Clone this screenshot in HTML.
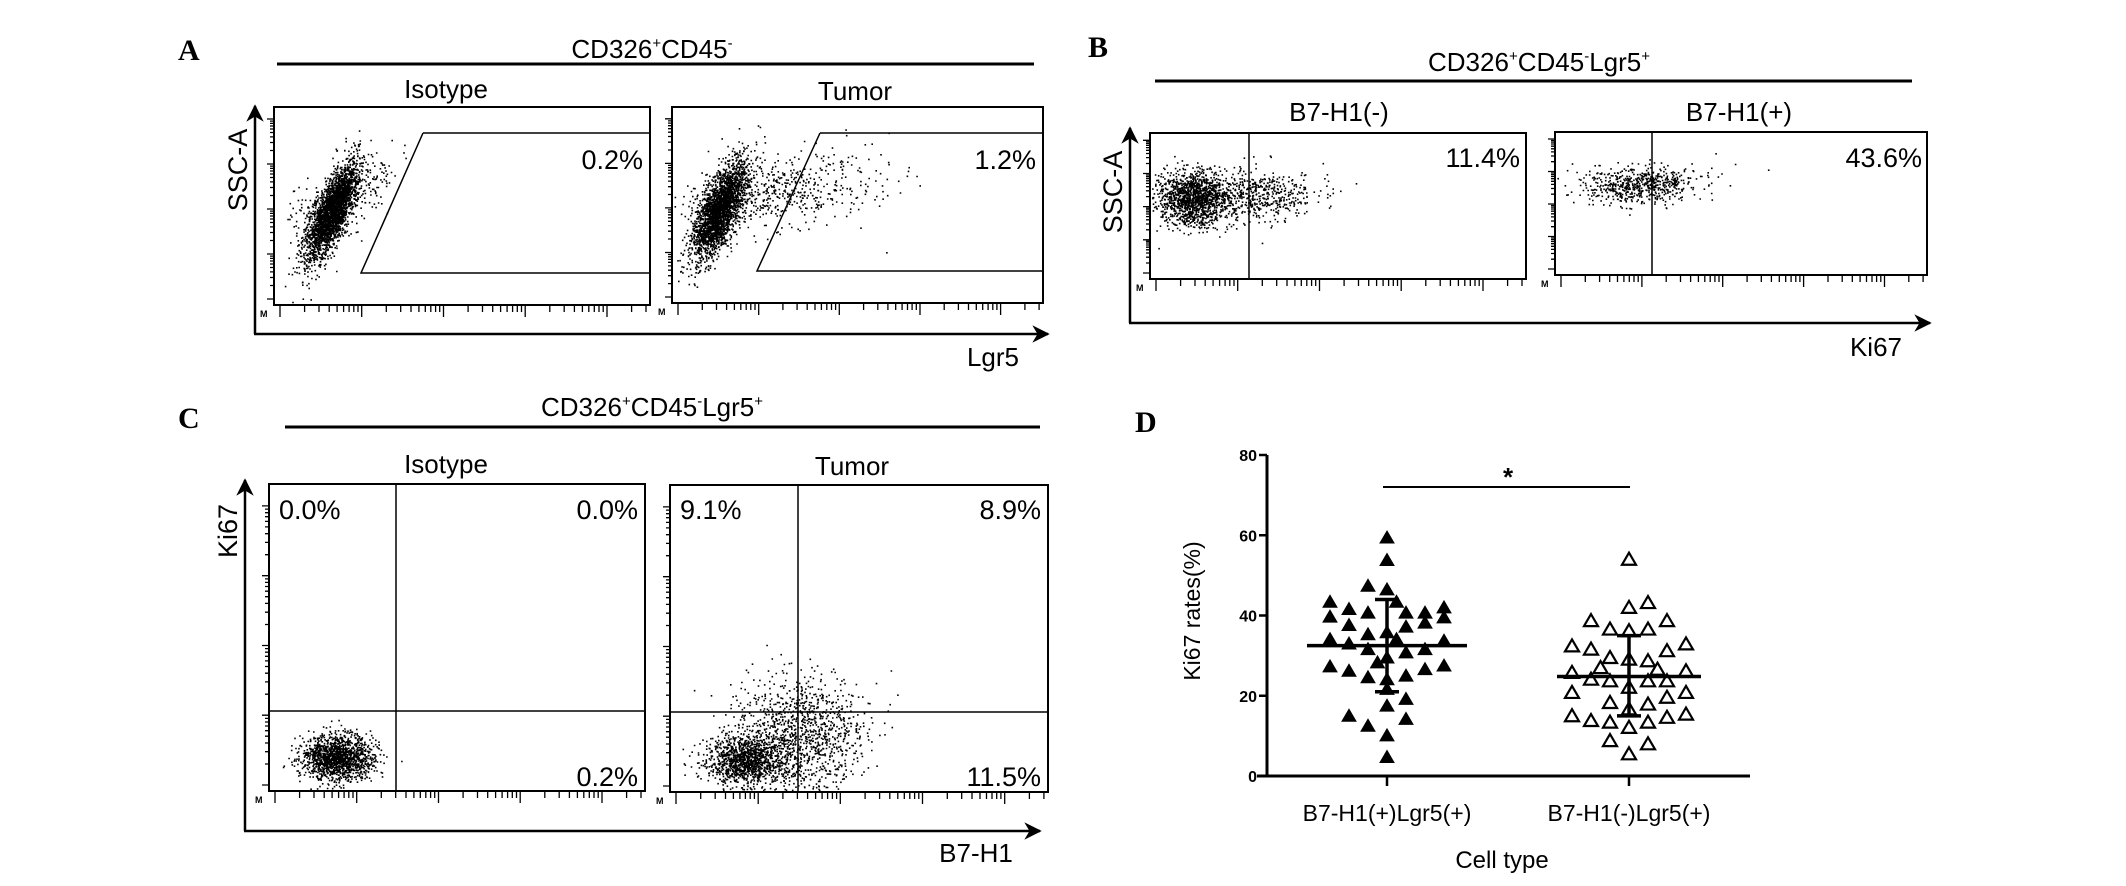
<!DOCTYPE html>
<html><head><meta charset="utf-8"><style>
html,body{margin:0;padding:0;background:#fff;}
svg{display:block;font-family:"Liberation Sans",Arial,sans-serif;}
.pl{font-family:"Liberation Serif",serif;font-weight:bold;font-size:30px;}
</style></head><body>
<svg id="fig" width="2126" height="886" viewBox="0 0 2126 886" xmlns="http://www.w3.org/2000/svg">
<defs><marker id="ar" viewBox="0 0 10 10" refX="9" refY="5" markerWidth="7" markerHeight="7" orient="auto"><path d="M0,0 L10,5 L0,10 L3,5 z" fill="#000"/></marker></defs>
<g id="panelA">
 <text class="pl" x="178" y="60">A</text>
 <text x="652" y="58" font-size="26" text-anchor="middle">CD326<tspan font-size="15" dy="-10">+</tspan><tspan dy="10">CD45</tspan><tspan font-size="15" dy="-10">-</tspan></text>
 <line x1="277" y1="64" x2="1034" y2="64" stroke="#000" stroke-width="3"/>
 <text x="446" y="98" font-size="26" text-anchor="middle">Isotype</text>
 <text x="855" y="100" font-size="26" text-anchor="middle">Tumor</text>
 <line x1="255" y1="334" x2="255" y2="106" stroke="#000" stroke-width="2.5" marker-end="url(#ar)"/>
 <line x1="254" y1="334" x2="1048" y2="334" stroke="#000" stroke-width="2.5" marker-end="url(#ar)"/>
 <text x="993" y="366" font-size="26" text-anchor="middle">Lgr5</text>
 <text transform="translate(247,170) rotate(-90)" font-size="27" text-anchor="middle">SSC-A</text>
</g>
<g id="panelB">
 <text class="pl" x="1088" y="57">B</text>
 <text x="1539" y="71" font-size="26" text-anchor="middle">CD326<tspan font-size="15" dy="-10">+</tspan><tspan dy="10">CD45</tspan><tspan font-size="15" dy="-10">-</tspan><tspan dy="10">Lgr5</tspan><tspan font-size="15" dy="-10">+</tspan></text>
 <line x1="1155" y1="81" x2="1912" y2="81" stroke="#000" stroke-width="3"/>
 <text x="1339" y="121" font-size="26" text-anchor="middle">B7-H1(-)</text>
 <text x="1739" y="121" font-size="26" text-anchor="middle">B7-H1(+)</text>
 <line x1="1130" y1="323" x2="1130" y2="128" stroke="#000" stroke-width="2.5" marker-end="url(#ar)"/>
 <line x1="1129" y1="323" x2="1930" y2="323" stroke="#000" stroke-width="2.5" marker-end="url(#ar)"/>
 <text x="1876" y="356" font-size="26" text-anchor="middle">Ki67</text>
 <text transform="translate(1122,192) rotate(-90)" font-size="27" text-anchor="middle">SSC-A</text>
</g>
<g id="panelC">
 <text class="pl" x="178" y="428">C</text>
 <text x="652" y="416" font-size="26" text-anchor="middle">CD326<tspan font-size="15" dy="-10">+</tspan><tspan dy="10">CD45</tspan><tspan font-size="15" dy="-10">-</tspan><tspan dy="10">Lgr5</tspan><tspan font-size="15" dy="-10">+</tspan></text>
 <line x1="285" y1="427" x2="1040" y2="427" stroke="#000" stroke-width="3"/>
 <text x="446" y="473" font-size="26" text-anchor="middle">Isotype</text>
 <text x="852" y="475" font-size="26" text-anchor="middle">Tumor</text>
 <line x1="245" y1="831" x2="245" y2="480" stroke="#000" stroke-width="2.5" marker-end="url(#ar)"/>
 <line x1="244" y1="831" x2="1040" y2="831" stroke="#000" stroke-width="2.5" marker-end="url(#ar)"/>
 <text x="976" y="862" font-size="26" text-anchor="middle">B7-H1</text>
 <text transform="translate(237,531) rotate(-90)" font-size="27" text-anchor="middle">Ki67</text>
</g>
<g id="panelD">
 <text class="pl" x="1135" y="432">D</text>
 <text transform="translate(1200,611) rotate(-90)" font-size="23" text-anchor="middle">Ki67 rates(%)</text>
 <text x="1502" y="868" font-size="24" text-anchor="middle">Cell type</text>
</g>
</svg>
<script>
// ---------- Panel D data ----------
const categories = ["B7-H1(+)Lgr5(+)", "B7-H1(-)Lgr5(+)"];
const yTicks = [0, 20, 40, 60, 80];
const posValues = [59.3,53.7,47.3,46.4,43.3,43.3,41.9,39.6,41.5,40.6,40.6,40.6,39.4,37.5,37.1,38.1,35.2,35.7,34,32.9,34,33.6,31.5,30.7,31.5,27.2,26.1,28.2,29.4,26.5,27.4,24.5,24,24.9,21.6,19.1,17.4,14.9,14.1,12.4,10,4.6];
const posSlots = [0,0,-1,0,-3,0.5,3,-3,-2,-1,1,2,3,-2,1,2,-1,0,-3,-2,0.5,3,-1,1,2,-3,-2,-0.5,0,2,3,-1,0,1,0,1,0,-2,1,-1,0,0];
const negValues = [53.9,43.1,41.9,38.6,38.6,36.5,36.1,36.5,32.3,31.5,31.1,32.8,29.4,29,28.6,25.7,26.9,26.5,26.1,24,23.6,23.6,23.6,22,20.7,19.5,20.7,18.2,17.8,16.6,14.9,13.7,14.5,15.3,13.3,13.3,12,8.7,7.9,5.4];
const negSlots = [0,1,0,-2,2,-1,0,1,-3,-2,2,3,-1,0,1,-3,-1.5,1.5,3,-2,-1,1,2,0,-3,2,3,-1,1,0,-3,-2,2,3,-1,1,0,-1,1,0];
const posMean = 32.5, posSD = [21, 44];
const negMean = 24.8, negSD = [15, 35];

// ---------- Flow data ----------
const flowPercentsA = ["0.2%", "1.2%"];
const flowPercentsB = ["11.4%", "43.6%"];
const flowPercentsC1 = ["0.0%", "0.0%", "0.2%"];
const flowPercentsC2 = ["9.1%", "8.9%", "11.5%"];

const NS = "http://www.w3.org/2000/svg";
const svg = document.getElementById('fig');
function mk(tag, attrs, parent){ const e = document.createElementNS(NS, tag); for (const k in attrs) e.setAttribute(k, attrs[k]); (parent||svg).appendChild(e); return e; }

// Seeded generator for flow-cytometry dot texture
let seed = 12345;
function rnd(){ seed = (seed * 1103515245 + 12345) % 2147483648; return seed / 2147483648; }
function gauss(){ let u = rnd() || 1e-9, v = rnd(); return Math.sqrt(-2*Math.log(u))*Math.cos(2*Math.PI*v); }

function flowBox(g, x0, y0, x1, y1){
  const r = mk('rect', {x:x0, y:y0, width:x1-x0, height:y1-y0, fill:'none', stroke:'#000', 'stroke-width':2}, g);
  
  
  // log ticks
  let d = '';
  const decadesX = 4.6, wx = (x1-x0)/decadesX;
  for (let k=0;k<5;k++) for (let m=1;m<=9;m++){
    const x = x0 + 6 + (k + Math.log10(m))*wx; if (x > x1-2) continue;
    const L = m===1 ? 12 : 7; d += `M${x.toFixed(1)},${y1} v${L} `;
  }
  const decadesY = 4.4, wy = (y1-y0)/decadesY;
  for (let k=0;k<5;k++) for (let m=1;m<=9;m++){
    const y = y1 - 6 - (k + Math.log10(m))*wy; if (y < y0+2) continue;
    const L = m===1 ? 7 : 4; d += `M${x0},${y.toFixed(1)} h${-L} `;
  }
  const t = mk('path', {d:d, stroke:'#000', 'stroke-width':1.3, fill:'none'}, g);
  
  
  const m = mk('text', {x:x0-14, y:y1+12, 'font-size':9, 'font-weight':'bold'}, g); m.textContent = 'M';
  
  
}
function cloud(g, box, cx, cy, sa, sb, ang, n){
  const c = Math.cos(ang), s = Math.sin(ang); let d = '';
  for (let i=0;i<n;i++){
    const a = gauss()*sa, b = gauss()*sb;
    const x = cx + a*c - b*s, y = cy + a*s + b*c;
    if (x < box[0]+2 || x > box[2]-2 || y < box[1]+2 || y > box[3]-2) continue;
    d += `M${x.toFixed(1)},${y.toFixed(1)}h1.6v1.6h-1.6z`;
  }
  const p = mk('path', {d:d, fill:'#000'}, g);
  
  
}
function label(g, txt, x, y, anchor, name){
  const t = mk('text', {x:x, y:y, 'font-size':27, 'text-anchor':anchor}, g); t.textContent = txt;
  
  
}

// Panel A
const gA = document.getElementById('panelA');
[[274,107,650,305],[672,107,1043,303]].forEach((b,i)=>{
  flowBox(gA, ...b);
  const gx0 = i===0 ? 423 : 820, gx1 = i===0 ? 361 : 757, gb = i===0 ? 273 : 271;
  const gate = mk('path', {d:`M${gx0},133 L${b[2]},133 M${b[2]},${gb} L${gx1},${gb} L${gx0},133`, fill:'none', stroke:'#000', 'stroke-width':1.5}, gA);
  
  
  label(gA, flowPercentsA[i], i===0 ? 643 : 1036, 169, 'end', 'gate-percent');
});
cloud(gA, [274,107,650,305], 331, 212, 26, 8, -1.15, 2600);
cloud(gA, [274,107,650,305], 345, 195, 30, 14, -0.6, 300);
cloud(gA, [672,107,1043,303], 719, 210, 26, 9, -1.15, 2600);
cloud(gA, [672,107,1043,303], 780, 190, 50, 18, -0.15, 550);

// Panel B
const gB = document.getElementById('panelB');
[[1150,133,1526,279,1249],[1555,132,1927,275,1652]].forEach((b,i)=>{
  flowBox(gB, b[0], b[1], b[2], b[3]);
  const l = mk('line', {x1:b[4], y1:b[1], x2:b[4], y2:b[3], stroke:'#000', 'stroke-width':1.5}, gB);
  
  
  label(gB, flowPercentsB[i], i===0 ? 1520 : 1922, 167, 'end', 'gate-percent');
});
cloud(gB, [1150,133,1526,279], 1192, 198, 17, 14, 0, 1300);
cloud(gB, [1150,133,1526,279], 1250, 196, 32, 13, 0, 600);
cloud(gB, [1555,132,1927,275], 1640, 184, 30, 9, -0.05, 650);

// Panel C
const gC = document.getElementById('panelC');
[[269,484,645,791,396,711,flowPercentsC1],[670,485,1048,792,798,712,flowPercentsC2]].forEach((b,i)=>{
  flowBox(gC, b[0], b[1], b[2], b[3]);
  const q = mk('path', {d:`M${b[4]},${b[1]} V${b[3]} M${b[0]},${b[5]} H${b[2]}`, stroke:'#000', 'stroke-width':1.5, fill:'none'}, gC);
  
  
  label(gC, b[6][0], b[0]+10, 519, 'start', 'quadrant-percent-ul');
  label(gC, b[6][1], b[2]-7, 519, 'end', 'quadrant-percent-ur');
  label(gC, b[6][2], b[2]-7, 786, 'end', 'quadrant-percent-lr');
});
cloud(gC, [269,484,645,791], 337, 757, 18, 11, 0, 1500);
cloud(gC, [670,485,1048,792], 745, 760, 20, 12, 0, 1200);
cloud(gC, [670,485,1048,792], 800, 735, 32, 30, 0, 1200);

// Panel D chart
const gD = document.getElementById('panelD');
const yTop = 455, yBot = 776, xAxis0 = 1267, xAxis1 = 1750;
function yScale(v){ return yBot - (v/80)*(yBot-yTop); }
const catX = [1387, 1629];
function xScale(i){ return catX[i]; }
const slotW = 19;
const ax = mk('path', {d:`M${xAxis0},${yTop} V${yBot} M1257,${yBot} H${xAxis1}`, stroke:'#000', 'stroke-width':3, fill:'none'}, gD);


yTicks.forEach(t=>{
  const y = yScale(t);
  const tk = mk('line', {x1:xAxis0-8, y1:y, x2:xAxis0, y2:y, stroke:'#000', 'stroke-width':2.5}, gD);
  
  
  const tl = mk('text', {x:xAxis0-10, y:y+6, 'font-size':16, 'font-weight':'bold', 'text-anchor':'end'}, gD); tl.textContent = t;
  
  
});
categories.forEach((c,i)=>{
  const x = xScale(i);
  const tk = mk('line', {x1:x, y1:yBot, x2:x, y2:yBot+10, stroke:'#000', 'stroke-width':2.5}, gD);
  
  
  const tl = mk('text', {x:x, y:821, 'font-size':23, 'text-anchor':'middle'}, gD); tl.textContent = c;
  
  
});
function tri(x, y, filled){
  const p = mk('path', {d:`M${x},${y-7} L${x+7},${y+5} L${x-7},${y+5} Z`, fill: filled ? '#000' : '#fff', stroke:'#000', 'stroke-width': filled ? 1 : 2.2, 'stroke-linejoin':'miter'}, gD);
  return p;
}
posValues.forEach((v,i)=>{
  const p = tri(xScale(0) + posSlots[i]*slotW, yScale(v), true);
  
  
});
negValues.forEach((v,i)=>{
  const p = tri(xScale(1) + negSlots[i]*slotW, yScale(v), false);
  
  
});
function summary(i, mean, sd, half, name){
  const x = xScale(i);
  const d = `M${x-half},${yScale(mean)} H${x+half} M${x},${yScale(sd[0])} V${yScale(sd[1])} M${x-12},${yScale(sd[0])} H${x+12} M${x-12},${yScale(sd[1])} H${x+12}`;
  const p = mk('path', {d:d, stroke:'#000', 'stroke-width':3.5, fill:'none'}, gD);
  
  
}
summary(0, posMean, posSD, 80, 'mean-sd-b7h1-pos');
summary(1, negMean, negSD, 72, 'mean-sd-b7h1-neg');
const sig = mk('line', {x1:xScale(0)-4, y1:487, x2:xScale(1)+1, y2:487, stroke:'#000', 'stroke-width':2}, gD);


const star = mk('text', {x:(xScale(0)+xScale(1))/2, y:486, 'font-size':26, 'font-weight':'bold', 'text-anchor':'middle'}, gD); star.textContent = '*';


</script>
</body></html>
